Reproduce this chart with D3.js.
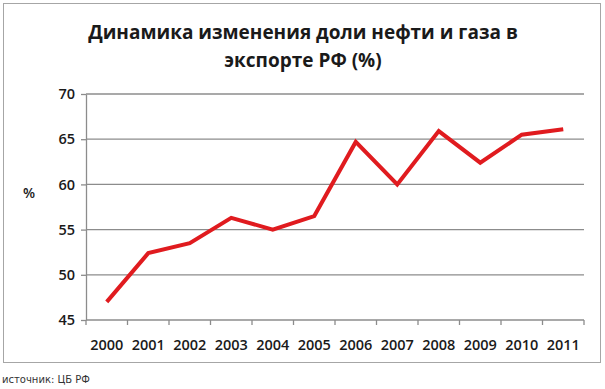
<!DOCTYPE html>
<html>
<head>
<meta charset="utf-8">
<script src="https://cdn.jsdelivr.net/npm/d3@7"></script>
<style>
  body { margin: 0; background: #fff; }
  text { font-family: 'Open Sans', sans-serif; }
</style>
</head>
<body>
<div class="chart"></div>
<script>
var years = ['2000', '2001', '2002', '2003', '2004', '2005', '2006', '2007', '2008', '2009', '2010', '2011'];
var share = [47.0, 52.4, 53.5, 56.3, 55.0, 56.5, 64.7, 60.0, 65.9, 62.4, 65.5, 66.1];
var yTicks = [45, 50, 55, 60, 65, 70];
var titleLines = ['Динамика изменения доли нефти и газа в', 'экспорте РФ (%)'];

var fullWidth = 605, fullHeight = 389;
var margin = { top: 94, right: 21, left: 86 };
var width = fullWidth - margin.left - margin.right;
var plotH = 226;

var root = d3.select('.chart')
  .append('svg')
  .attr('width', fullWidth)
  .attr('height', fullHeight);

// outer frame
root.append('rect')
  .attr('x', 3.5).attr('y', 3.5)
  .attr('width', 597).attr('height', 359)
  .attr('fill', 'none')
  .attr('stroke', '#a6a6a6')
  .attr('stroke-width', 1);

// title
root.append('g').selectAll('text')
  .data(titleLines)
  .enter().append('text')
  .attr('x', 303)
  .attr('y', (d, i) => 39 + i * 28)
  .attr('text-anchor', 'middle')
  .style('font-size', '19px')
  .style('font-weight', 'bold')
  .style('fill', '#1a1a1a')
  .text(d => d);

var svg = root.append('g')
  .attr('transform', 'translate(' + margin.left + ',' + margin.top + ')');

var yScale = d3.scaleLinear()
  .domain([45, 70])
  .range([plotH, 0]);

var xScale = d3.scaleBand()
  .domain(years)
  .range([0, width]);

// gridlines
svg.append('g')
  .selectAll('line')
  .data(yTicks.filter(d => d > 45))
  .enter().append('line')
  .attr('x1', 0).attr('x2', width)
  .attr('y1', d => yScale(d)).attr('y2', d => yScale(d))
  .attr('stroke', '#8c8c8c')
  .attr('stroke-width', 1.3);

var yAxis = d3.axisLeft(yScale)
  .tickValues(yTicks)
  .tickSizeInner(5)
  .tickSizeOuter(0)
  .tickPadding(6);

var gy = svg.append('g').call(yAxis);
gy.select('.domain').attr('stroke', '#8c8c8c').attr('stroke-width', 1.3);
gy.selectAll('.tick line').attr('stroke', '#8c8c8c').attr('stroke-width', 1.3);
gy.selectAll('text')
  .style('font-size', '14.5px')
  .style('font-weight', '600')
  .style('fill', '#1a1a1a')
  .style('font-family', "'Open Sans', sans-serif");

// x axis, ticks on category boundaries
var gx = svg.append('g')
  .attr('transform', 'translate(0,' + plotH + ')');
gx.append('line')
  .attr('x1', 0).attr('x2', width)
  .attr('stroke', '#8c8c8c').attr('stroke-width', 1.3);
gx.selectAll('line.tk')
  .data(years.concat(['end']))
  .enter().append('line')
  .attr('class', 'tk')
  .attr('x1', (d, i) => i * xScale.bandwidth())
  .attr('x2', (d, i) => i * xScale.bandwidth())
  .attr('y1', 0).attr('y2', 5)
  .attr('stroke', '#8c8c8c').attr('stroke-width', 1.3);
gx.selectAll('text')
  .data(years)
  .enter().append('text')
  .attr('x', d => xScale(d) + xScale.bandwidth() / 2)
  .attr('y', 30)
  .attr('text-anchor', 'middle')
  .style('font-size', '14.5px')
  .style('font-weight', '600')
  .style('fill', '#1a1a1a')
  .text(d => d);

// y label
root.append('text')
  .attr('x', 29).attr('y', 198)
  .attr('text-anchor', 'middle')
  .style('font-size', '14px')
  .style('font-weight', '600')
  .style('fill', '#1a1a1a')
  .text('%');

// line
var line = d3.line()
  .x((d, i) => xScale(years[i]) + xScale.bandwidth() / 2)
  .y(d => yScale(d));

svg.append('path')
  .datum(share)
  .attr('d', line)
  .attr('fill', 'none')
  .attr('stroke', '#e01b1f')
  .attr('stroke-width', 4);

// source note
root.append('text')
  .attr('x', 2).attr('y', 383)
  .style('font-size', '10px')
  .style('font-family', "'DejaVu Sans', sans-serif")
  .style('fill', '#333')
  .text('источник: ЦБ РФ');
</script>
</body>
</html>
